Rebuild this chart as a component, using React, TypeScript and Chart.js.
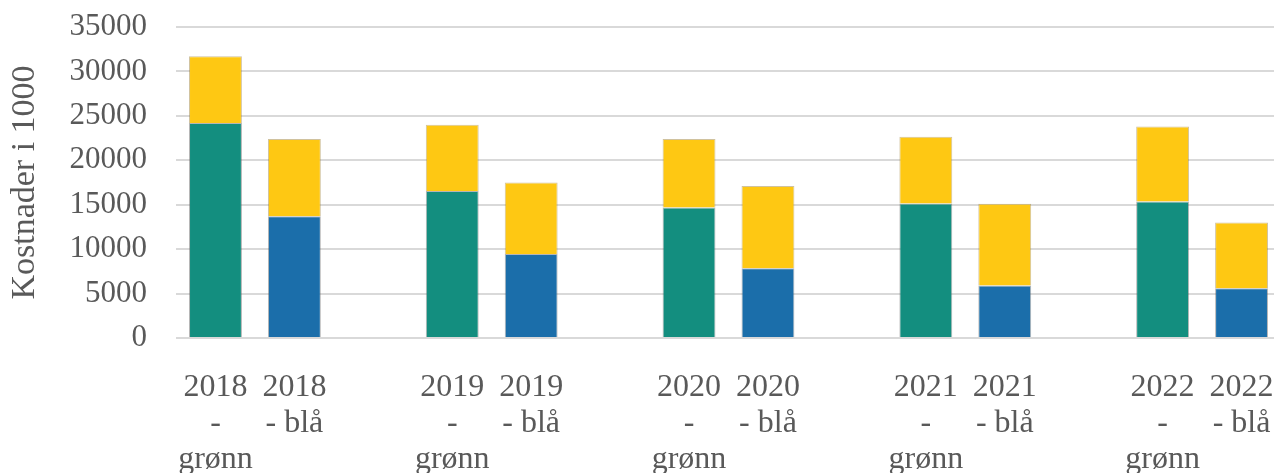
import React, { useEffect, useRef } from "react";
import { Chart, registerables } from "chart.js";

Chart.register(...registerables);

const categories: (string | string[])[] = [
  ["2018", "-", "grønn"], ["2018", "- blå"], "",
  ["2019", "-", "grønn"], ["2019", "- blå"], "",
  ["2020", "-", "grønn"], ["2020", "- blå"], "",
  ["2021", "-", "grønn"], ["2021", "- blå"], "",
  ["2022", "-", "grønn"], ["2022", "- blå"],
];

const baseValues: (number | null)[] = [
  24200, 13700, null,
  16550, 9450, null,
  14700, 7850, null,
  15150, 5900, null,
  15350, 5600,
];

const topValues: (number | null)[] = [
  7500, 8700, null,
  7450, 8050, null,
  7700, 9250, null,
  7500, 9200, null,
  8450, 7400,
];

const yTicks = [0, 5000, 10000, 15000, 20000, 25000, 30000, 35000];

const TEAL = "#138e7f";
const BLUE = "#1b6eaa";
const YELLOW = "#fec813";

const baseColors = categories.map((c) =>
  Array.isArray(c) && c.join(" ").includes("grønn") ? TEAL : BLUE
);

export default function App() {
  const ref = useRef<HTMLCanvasElement | null>(null);

  useEffect(() => {
    if (!ref.current) return;
    const chart = new Chart(ref.current, {
      type: "bar",
      data: {
        labels: categories,
        datasets: [
          {
            label: "base",
            data: baseValues,
            backgroundColor: baseColors,
            borderColor: "rgba(90,90,90,0.45)",
            borderWidth: 1,
            barPercentage: 0.67,
            categoryPercentage: 1,
          },
          {
            label: "top",
            data: topValues,
            backgroundColor: YELLOW,
            borderColor: "rgba(150,120,40,0.45)",
            borderWidth: 1,
            barPercentage: 0.67,
            categoryPercentage: 1,
          },
        ],
      },
      options: {
        responsive: false,
        animation: false,
        devicePixelRatio: 1,
        layout: { padding: { top: 27, left: 0, right: 0, bottom: 0 } },
        plugins: {
          legend: { display: false },
          tooltip: { enabled: false },
        },
        scales: {
          x: {
            stacked: true,
            grid: { display: false, drawTicks: false },
            border: { display: false },
            ticks: {
              autoSkip: false,
              maxRotation: 0,
              minRotation: 0,
              padding: 32,
              color: "#595959",
              font: { family: "'Liberation Serif', serif", size: 32, lineHeight: 36 / 32 },
            },
            afterFit: (scale: any) => {
              scale.height = 135;
              scale.paddingLeft = 0;
              scale.paddingRight = 0;
            },
          },
          y: {
            stacked: true,
            min: 0,
            max: 35000,
            afterBuildTicks: (scale: any) => {
              scale.ticks = yTicks.map((v) => ({ value: v }));
            },
            grid: { color: "#d9d9d9", lineWidth: 2, drawTicks: false },
            border: { display: false },
            ticks: {
              padding: 29,
              color: "#595959",
              font: { family: "'Liberation Serif', serif", size: 31 },
              callback: (v: any) => String(v),
            },
            title: {
              display: true,
              text: "Kostnader i 1000",
              color: "#595959",
              font: { family: "'Liberation Serif', serif", size: 34, lineHeight: 1.2 },
              padding: { top: 5, bottom: 0 },
            },
            afterFit: (scale: any) => {
              scale.width = 176;
              scale.paddingTop = 0;
              scale.paddingBottom = 0;
            },
          },
        },
      },
    });
    return () => chart.destroy();
  }, []);

  return (
    <div style={{ width: 1274, height: 473, overflow: "hidden", position: "relative" }}>
      <style>{`body{margin:0;overflow:hidden;}`}</style>
      <canvas ref={ref} width={1281} height={473} style={{ display: "block" }} />
    </div>
  );
}
